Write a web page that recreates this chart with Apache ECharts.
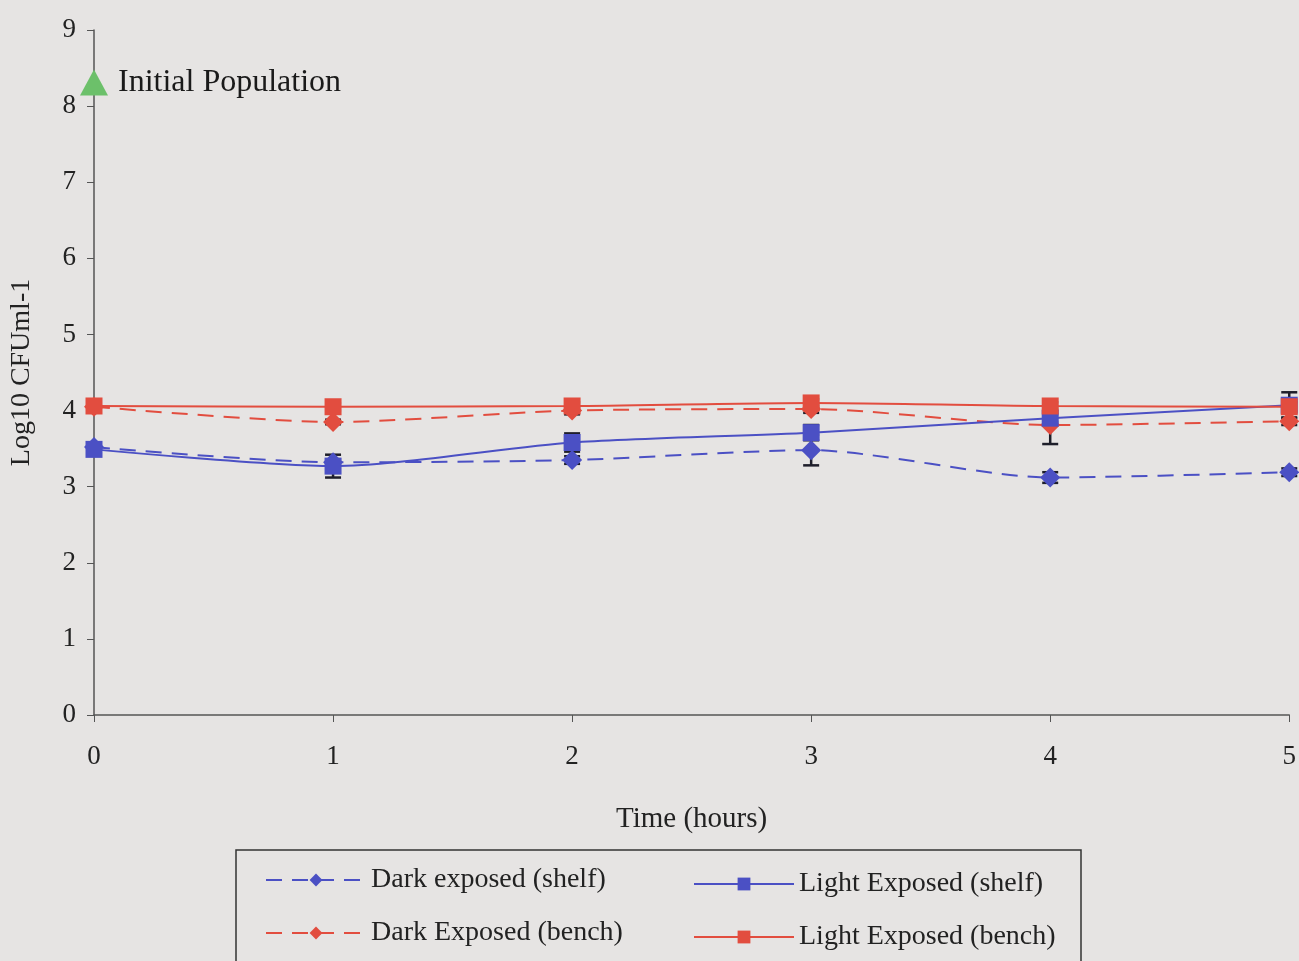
<!DOCTYPE html>
<html>
<head>
<meta charset="utf-8">
<script src="https://cdn.jsdelivr.net/npm/echarts@6/dist/echarts.min.js"></script>
<style>
html,body{margin:0;padding:0;background:#e6e4e3;}
#chart{width:1299px;height:961px;}
</style>
</head>
<body>
<div id="chart"></div>
<script>
var hours = [0, 1, 2, 3, 4, 5];
var darkShelf  = [3.52, 3.32, 3.35, 3.48, 3.12, 3.19];
var lightShelf = [3.49, 3.27, 3.58, 3.71, 3.90, 4.07];
var darkBench  = [4.05, 3.85, 4.00, 4.02, 3.81, 3.86];
var lightBench = [4.06, 4.05, 4.06, 4.10, 4.06, 4.05];
var errDarkShelf  = [0.04, 0.04, 0.05, 0.20, 0.07, 0.05];
var errLightShelf = [0.06, 0.15, 0.12, 0.10, 0.05, 0.17];
var errDarkBench  = [0.03, 0.03, 0.05, 0.05, 0.25, 0.05];
var errLightBench = [0.03, 0.05, 0.05, 0.05, 0.05, 0.06];
var initialPopulation = [0, 8.31];
var yTicks = [0, 1, 2, 3, 4, 5, 6, 7, 8, 9];

var BLUE = '#4b50c4', RED = '#e24d3f', GREEN = '#6cc06a', INK = '#222222';
var FONT = 'Liberation Serif';

function pairs(vals) { return hours.map(function (h, i) { return [h, vals[i]]; }); }
function errData(vals, errs) { return hours.map(function (h, i) { return [h, vals[i] - errs[i], vals[i] + errs[i]]; }); }

function errSeries(vals, errs) {
  return {
    type: 'custom',
    silent: true,
    z: 1,
    data: errData(vals, errs),
    encode: { x: 0, y: [1, 2] },
    renderItem: function (params, api) {
      var lo = api.coord([api.value(0), api.value(1)]);
      var hi = api.coord([api.value(0), api.value(2)]);
      var w = 8;
      var st = { stroke: '#1e1e2a', lineWidth: 2.5 };
      return {
        type: 'group',
        children: [
          { type: 'line', shape: { x1: lo[0], y1: lo[1], x2: hi[0], y2: hi[1] }, style: st },
          { type: 'line', shape: { x1: lo[0] - w, y1: lo[1], x2: lo[0] + w, y2: lo[1] }, style: st },
          { type: 'line', shape: { x1: hi[0] - w, y1: hi[1], x2: hi[0] + w, y2: hi[1] }, style: st }
        ]
      };
    }
  };
}

function lineSeries(name, vals, color, dashed, symbol, size) {
  return {
    name: name,
    type: 'line',
    data: pairs(vals),
    smooth: 0.25,
    symbol: symbol,
    symbolSize: size,
    z: 3,
    lineStyle: { color: color, width: 2, type: dashed ? [16, 10] : 'solid' },
    itemStyle: { color: color }
  };
}

var chart = echarts.init(document.getElementById('chart'));
chart.setOption({
  backgroundColor: '#e6e4e3',
  animation: false,
  textStyle: { fontFamily: FONT, color: INK },
  grid: { left: 93, right: 9, top: 30, bottom: 246 },
  xAxis: {
    type: 'value', min: 0, max: 5, interval: 1,
    name: 'Time (hours)', nameLocation: 'middle', nameGap: 90,
    nameTextStyle: { fontFamily: FONT, fontSize: 29, color: INK },
    axisLine: { lineStyle: { color: '#555', width: 1.5 } },
    axisTick: { show: true, length: 7, lineStyle: { color: '#555' } },
    axisLabel: { fontFamily: FONT, fontSize: 27, color: INK, margin: 28 },
    splitLine: { show: false }
  },
  yAxis: {
    type: 'value', min: 0, max: 9, interval: 1,
    name: 'Log10 CFUml-1', nameLocation: 'middle', nameGap: 58, nameRotate: 90,
    nameTextStyle: { fontFamily: FONT, fontSize: 28, color: INK },
    axisLine: { show: true, lineStyle: { color: '#555', width: 1.5 } },
    axisTick: { show: true, length: 7, lineStyle: { color: '#555' } },
    axisLabel: { fontFamily: FONT, fontSize: 27, color: INK, margin: 18,
      formatter: function (v) { return yTicks.indexOf(v) >= 0 ? String(v) : ''; } },
    splitLine: { show: false }
  },
  legend: [
    {
      data: ['Dark exposed (shelf)', 'Dark Exposed (bench)'],
      orient: 'vertical', left: 260, top: 861, itemGap: 25,
      itemWidth: 100, itemHeight: 16,
      textStyle: { fontFamily: FONT, fontSize: 28, color: INK }
    },
    {
      data: ['Light Exposed (shelf)', 'Light Exposed (bench)'],
      orient: 'vertical', left: 688, top: 865, itemGap: 25,
      itemWidth: 100, itemHeight: 16,
      textStyle: { fontFamily: FONT, fontSize: 28, color: INK }
    }
  ],
  graphic: [
    { type: 'rect', shape: { x: 236, y: 850, width: 845, height: 130 },
      style: { fill: 'none', stroke: '#333', lineWidth: 1.5 }, z: 0 }
  ],
  series: [
    errSeries(darkShelf, errDarkShelf),
    errSeries(lightShelf, errLightShelf),
    errSeries(darkBench, errDarkBench),
    errSeries(lightBench, errLightBench),
    lineSeries('Dark exposed (shelf)', darkShelf, BLUE, true, 'diamond', 20),
    lineSeries('Dark Exposed (bench)', darkBench, RED, true, 'diamond', 20),
    lineSeries('Light Exposed (shelf)', lightShelf, BLUE, false, 'rect', 17),
    lineSeries('Light Exposed (bench)', lightBench, RED, false, 'rect', 17),
    {
      name: 'Initial Population',
      type: 'scatter',
      data: [initialPopulation],
      symbol: 'triangle',
      symbolSize: [28, 26],
      itemStyle: { color: GREEN, opacity: 1 },
      z: 4,
      label: { show: true, position: 'right', distance: 10, formatter: 'Initial Population',
        fontFamily: FONT, fontSize: 32, color: '#1a1a1a', opacity: 1 }
    }
  ]
});
</script>
</body>
</html>
